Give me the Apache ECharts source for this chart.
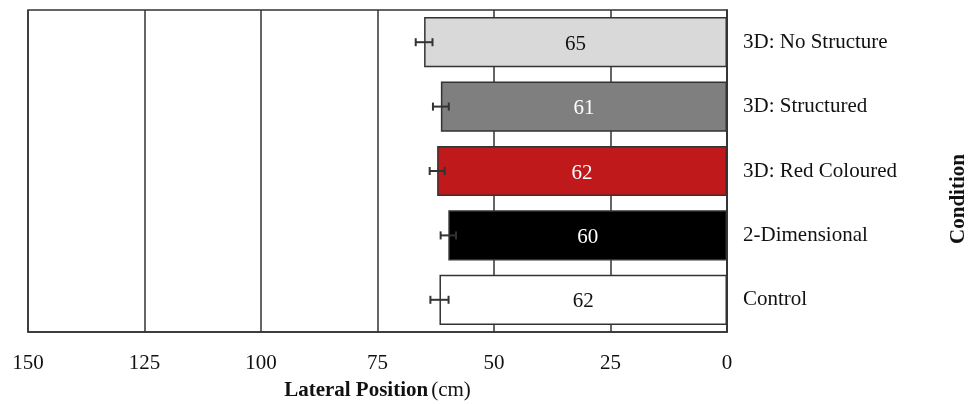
<!DOCTYPE html>
<html>
<head>
<meta charset="utf-8">
<script src="https://cdn.jsdelivr.net/npm/echarts@6/dist/echarts.min.js"></script>
<style>
  html, body { margin: 0; padding: 0; background: #fff; }
  #chart { width: 970px; height: 404px; }
</style>
</head>
<body>
<div id="chart"></div>
<script>
// top to bottom
const conditions = ['3D: No Structure', '3D: Structured', '3D: Red Coloured', '2-Dimensional', 'Control']
const meanPosition = [65.0, 61.4, 62.2, 59.8, 61.7]
const stdError = [1.8, 1.7, 1.6, 1.65, 1.95]
const barColors = ['#d9d9d9', '#7f7f7f', '#c0191b', '#000000', '#ffffff']
const labelColors = ['#111', '#fff', '#fff', '#fff', '#111']
const xTicks = [0, 25, 50, 75, 100, 125, 150]

const FONT = '"Liberation Serif", "DejaVu Serif", serif'
const FS = 21
const LINE = '#333'

const chart = echarts.init(document.getElementById('chart'))

const barData = meanPosition.map((v, i) => ({
  value: v,
  itemStyle: { color: barColors[i] },
  label: { color: labelColors[i] }
}))

const errData = meanPosition.map((v, i) => [v - stdError[i], v + stdError[i], i])

const option = {
  animation: false,
  textStyle: { fontFamily: FONT },
  grid: {
    left: 28,
    right: 243,
    top: 10,
    bottom: 72,
    outerBoundsMode: 'none',
    show: true,
    borderColor: LINE,
    borderWidth: 1.5,
    backgroundColor: 'transparent'
  },
  xAxis: {
    type: 'value',
    min: xTicks[0],
    max: xTicks[xTicks.length - 1],
    interval: 25,
    inverse: true,
    axisLine: { show: true, lineStyle: { color: LINE, width: 1.5 } },
    axisTick: { show: false },
    splitLine: { show: true, lineStyle: { color: LINE, width: 1.5 } },
    axisLabel: { color: '#111', fontSize: FS, fontFamily: FONT, margin: 21 },
    name: '{b|Lateral Position} {n|(cm)}',
    nameLocation: 'middle',
    nameGap: 48,
    nameTextStyle: {
      rich: {
        b: { fontSize: FS, fontWeight: 'bold', color: '#111', fontFamily: FONT },
        n: { fontSize: FS, color: '#111', fontFamily: FONT }
      }
    }
  },
  yAxis: {
    type: 'category',
    data: conditions,
    inverse: true,
    position: 'right',
    axisLine: { show: true, lineStyle: { color: LINE, width: 1.5 } },
    axisTick: { show: false },
    axisLabel: { color: '#111', fontSize: FS, fontFamily: FONT, margin: 16, padding: [5, 0, 0, 0] }
  },
  graphic: [{
    type: 'text',
    x: 959,
    y: 199,
    rotation: Math.PI / 2,
    style: {
      text: 'Condition',
      fill: '#111',
      font: 'bold ' + FS + 'px ' + FONT,
      align: 'center',
      verticalAlign: 'middle'
    }
  }],
  series: [
    {
      type: 'bar',
      data: barData,
      barCategoryGap: '22%',
      itemStyle: { borderColor: LINE, borderWidth: 1.5 },
      label: {
        show: true,
        position: 'inside',
        offset: [0, 2],
        fontSize: FS,
        fontFamily: FONT,
        formatter: p => Math.round(p.value)
      },
      z: 3
    },
    {
      type: 'custom',
      data: errData,
      z: 5,
      renderItem: (params, api) => {
        const lo = api.coord([api.value(0), api.value(2)])
        const hi = api.coord([api.value(1), api.value(2)])
        const cap = 4
        const style = { stroke: LINE, lineWidth: 2 }
        return {
          type: 'group',
          children: [
            { type: 'line', shape: { x1: lo[0], y1: lo[1], x2: hi[0], y2: hi[1] }, style },
            { type: 'line', shape: { x1: lo[0], y1: lo[1] - cap, x2: lo[0], y2: lo[1] + cap }, style },
            { type: 'line', shape: { x1: hi[0], y1: hi[1] - cap, x2: hi[0], y2: hi[1] + cap }, style }
          ]
        }
      }
    }
  ]
}

chart.setOption(option)
</script>
</body>
</html>
